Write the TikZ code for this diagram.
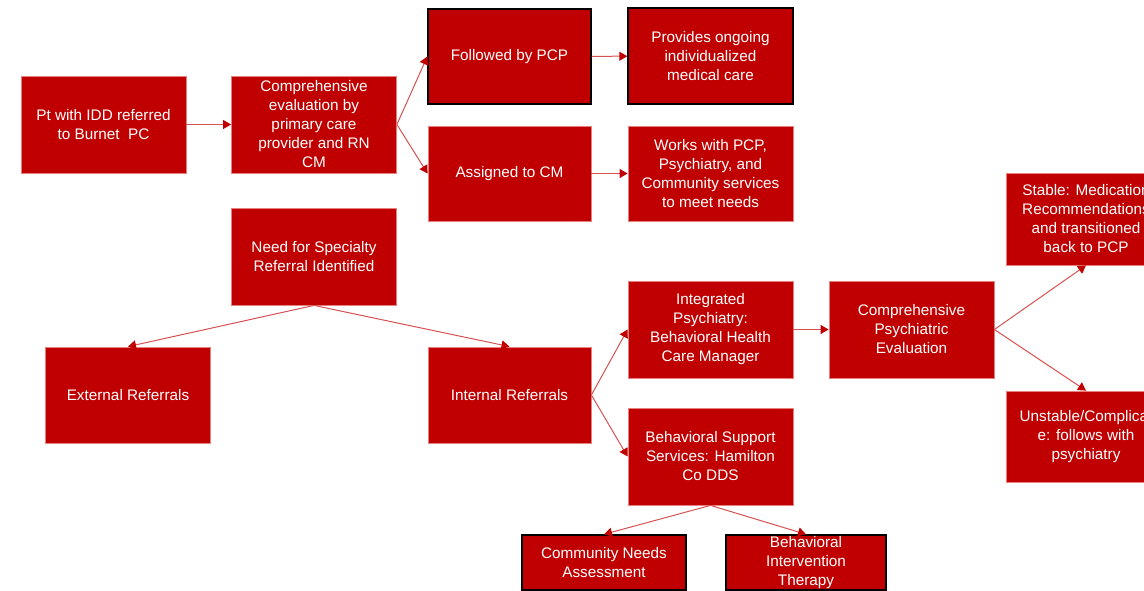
\documentclass[tikz,border=0pt]{standalone}
\usepackage{fontspec}
\setmainfont{Liberation Sans}
\usetikzlibrary{arrows.meta}
\definecolor{boxred}{RGB}{192,0,0}
\definecolor{linered}{RGB}{214,82,82}
\definecolor{edgered}{RGB}{232,128,128}
\tikzset{
  box/.style={fill=boxred, draw=edgered, line width=0.8pt, text=white, align=center,
    inner sep=0pt, minimum width=165pt, minimum height=97pt,
    font=\fontsize{15.3}{19}\selectfont},
  blackbox/.style={box, draw=black, line width=1.4pt},
  arr/.style={draw=linered, line width=1pt,
    -{Triangle[length=8pt,width=9pt,color=boxred]}}
}
\begin{document}
\begin{tikzpicture}[x=1pt,y=-1pt]
				\useasboundingbox (0,0) rectangle (1144,590);
				\clip (0,0) rectangle (1144,590);
				\node[box] (pt) at (103.5,124.5){Pt with IDD referred\\to Burnet~ PC};
				\node[box] (compeval) at (314,124.5){Comprehensive\\evaluation by\\primary care\\provider and RN\\CM};
				\node[blackbox, minimum width=163pt, minimum height=95pt] (pcp) at (509.5,56.5){Followed by PCP};
				\node[blackbox, minimum height=96pt] (ongoing) at (710.5,56){Provides ongoing\\individualized\\medical care};
				\node[box, minimum width=163pt, minimum height=95pt] (assigned) at (509.5,173.5){Assigned to CM};
				\node[box, minimum height=95pt] (works) at (710.5,173.5){Works with PCP,\\Psychiatry, and\\Community services\\to meet needs};
				\node[box] (need) at (314,256.5){Need for Specialty\\Referral Identified};
				\node[box, minimum height=96pt] (external) at (128,395){External Referrals};
				\node[box, minimum width=163pt, minimum height=96pt] (internal) at (509.5,395){Internal Referrals};
				\node[box] (integrated) at (710.5,329.5){Integrated\\Psychiatry:\\Behavioral Health\\Care Manager};
				\node[box] (support) at (710.5,456.5){Behavioral Support\\Services: Hamilton\\Co DDS};
				\node[box] (psycheval) at (911.5,329.5){Comprehensive\\Psychiatric\\Evaluation};
				\node[box, minimum width=160pt, minimum height=92pt] (stable) at (1086,219){Stable: Medication\\Recommendations\\and transitioned\\back to PCP};
				\node[box, minimum width=160pt, minimum height=91pt] (unstable) at (1086,436.5){Unstable/Complicat\\e: follows with\\psychiatry};
				\node[blackbox, minimum width=164pt, minimum height=55pt] (community) at (604,562.5){Community Needs\\Assessment};
				\node[blackbox, minimum width=160pt, minimum height=55pt] (intervention) at (806,562.5){Behavioral\\Intervention\\Therapy};
				\draw[arr](pt)--(compeval);
				\draw[arr](compeval.east)--(pcp.west);
				\draw[arr](compeval.east)--(assigned.west);
				\draw[arr](pcp)--(ongoing);
				\draw[arr](assigned)--(works);
				\draw[arr](need.south)--(external.north);
				\draw[arr](need.south)--(internal.north);
				\draw[arr](internal.east)--(integrated.west);
				\draw[arr](internal.east)--(support.west);
				\draw[arr](integrated)--(psycheval);
				\draw[arr](psycheval.east)--(stable.south);
				\draw[arr](psycheval.east)--(unstable.north);
				\draw[arr](support.south)--(community.north);
				\draw[arr](support.south)--(intervention.north);
\end{tikzpicture}
\end{document}
